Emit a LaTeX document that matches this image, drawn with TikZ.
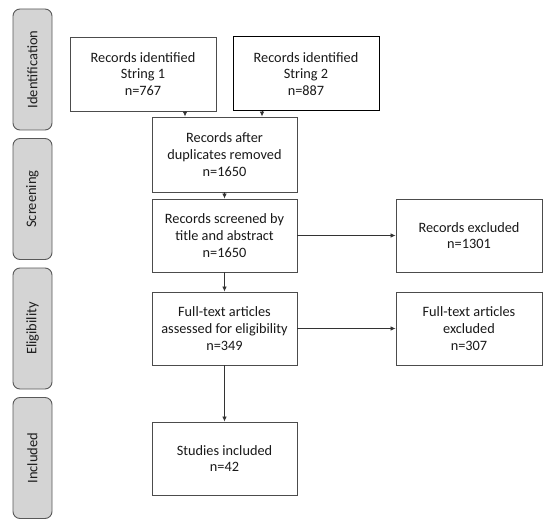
\documentclass[tikz,border=0pt]{standalone}
\usepackage{fontspec}
\setmainfont{Carlito}
\usetikzlibrary{arrows.meta}
\begin{document}
\begin{tikzpicture}[x=1pt,y=-1pt,
  box/.style={draw=black!70,line width=0.9pt,fill=white,minimum width=146pt,minimum height=74pt,align=center,font=\fontsize{14.3}{16.8}\selectfont,text=black!90,inner sep=0pt},
  phase/.style={draw=black!65,line width=0.9pt,fill=black!17,rounded corners=7pt,minimum width=121pt,minimum height=39pt,rotate=90,font=\fontsize{14.5}{16}\selectfont,text=black!88,inner sep=0pt},
  arr/.style={draw=black!80,line width=0.8pt,-{Latex[length=5pt,width=4.5pt]}}]
\useasboundingbox (0,0) rectangle (550,527);
\fill[white] (0,0) rectangle (550,527);
% phase bars
\node[phase] (p1) at (32.5,69.5) {Identification};
\node[phase] (p2) at (32.5,199) {Screening};
\node[phase] (p3) at (32.5,328.5) {Eligibility};
\node[phase] (p4) at (32.5,458) {Included};
% boxes
\node[box] (s1) at (143,74) {Records identified\\String 1\\n=767};
\node[box,draw=black,line width=1pt] (s2) at (306,74) {Records identified\\String 2\\n=887};
\node[box,minimum width=145pt,minimum height=75pt] (dup) at (224.5,154.5) {Records after\\duplicates removed\\n=1650};
\node[box,minimum width=145pt,minimum height=73pt] (scr) at (224.5,235.5) {Records screened by\\title and abstract\\n=1650};
\node[box,minimum width=145pt,minimum height=73pt] (ft) at (224.5,328.5) {Full-text articles\\assessed for eligibility\\n=349};
\node[box,minimum width=145pt,minimum height=73pt] (inc) at (224.5,458.5) {Studies included\\n=42};
\node[box,minimum height=73pt] (ex1) at (469,235.5) {Records excluded\\n=1301};
\node[box,minimum height=73pt] (ex2) at (469,328.5) {Full-text articles\\excluded\\n=307};
% arrows
\coordinate (c1) at (185,0);
\coordinate (c2) at (262,0);
\draw[arr] (s1.south -| c1) -- (dup.north -| c1);
\draw[arr] (s2.south -| c2) -- (dup.north -| c2);
\draw[arr] (dup) -- (scr);
\draw[arr] (scr.south) -- (ft.north);
\draw[arr] (ft.south) -- (inc.north);
\draw[arr] (scr.east) -- (ex1.west);
\draw[arr] (ft.east) -- (ex2.west);
\end{tikzpicture}
\end{document}
